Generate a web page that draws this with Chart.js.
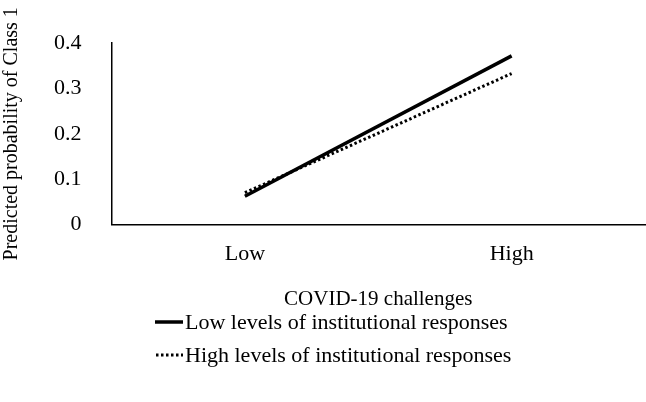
<!DOCTYPE html>
<html><head><meta charset="utf-8">
<script src="https://cdn.jsdelivr.net/npm/chart.js"></script>
<style>
body{margin:0;background:#fff;font-family:"Liberation Serif",serif;}
#wrap{width:646px;height:312px;position:relative;}
.leg{position:absolute;left:155px;font-size:22px;color:#000;display:flex;align-items:center;}
.leg svg{margin-right:2px;}
</style></head><body>
<div id="wrap"><canvas id="c"></canvas></div>
<div class="leg" style="top:309px"><svg width="28" height="6"><line x1="0" y1="3" x2="28" y2="3" stroke="#000" stroke-width="3.5"/></svg>Low levels of institutional responses</div>
<div class="leg" style="top:342px"><svg width="28" height="6"><line x1="1" y1="3" x2="28" y2="3" stroke="#000" stroke-width="3" stroke-dasharray="2.5,2.5"/></svg>High levels of institutional responses</div>
<script>
const categories=["Low","High"];
const lowResp=[0.062,0.372];
const highResp=[0.07,0.333];
const yTicks=[0,0.1,0.2,0.3,0.4];
new Chart(document.getElementById('c'),{
type:'line',
data:{labels:categories,datasets:[
{label:'Low levels of institutional responses',data:lowResp,borderColor:'#000',borderWidth:3.5,pointRadius:0,fill:false},
{label:'High levels of institutional responses',data:highResp,borderColor:'#000',borderWidth:3,borderDash:[2.5,2.5],pointRadius:0,fill:false}
]},
options:{responsive:true,maintainAspectRatio:false,animation:false,
layout:{padding:{top:15,right:1,left:0,bottom:0}},
plugins:{legend:{display:false},tooltip:{enabled:false}},
scales:{
x:{offset:true,grid:{display:false,drawTicks:false},border:{color:'#000',width:1.5},
ticks:{color:'#000',font:{family:'Liberation Serif',size:22},padding:17},
title:{display:true,text:'COVID-19 challenges',color:'#000',font:{family:'Liberation Serif',size:21},padding:{top:2,bottom:0}}},
y:{min:0,max:0.4,afterBuildTicks:a=>{a.ticks=yTicks.map(v=>({value:v}));},
grid:{display:false,drawTicks:false},border:{color:'#000',width:1.5},
ticks:{color:'#000',font:{family:'Liberation Serif',size:22},padding:30,callback:v=>String(v)},
title:{display:true,text:'Predicted probability of Class 1',color:'#000',font:{family:'Liberation Serif',size:20},padding:{bottom:0,top:0}}}
}}});
</script></body></html>
